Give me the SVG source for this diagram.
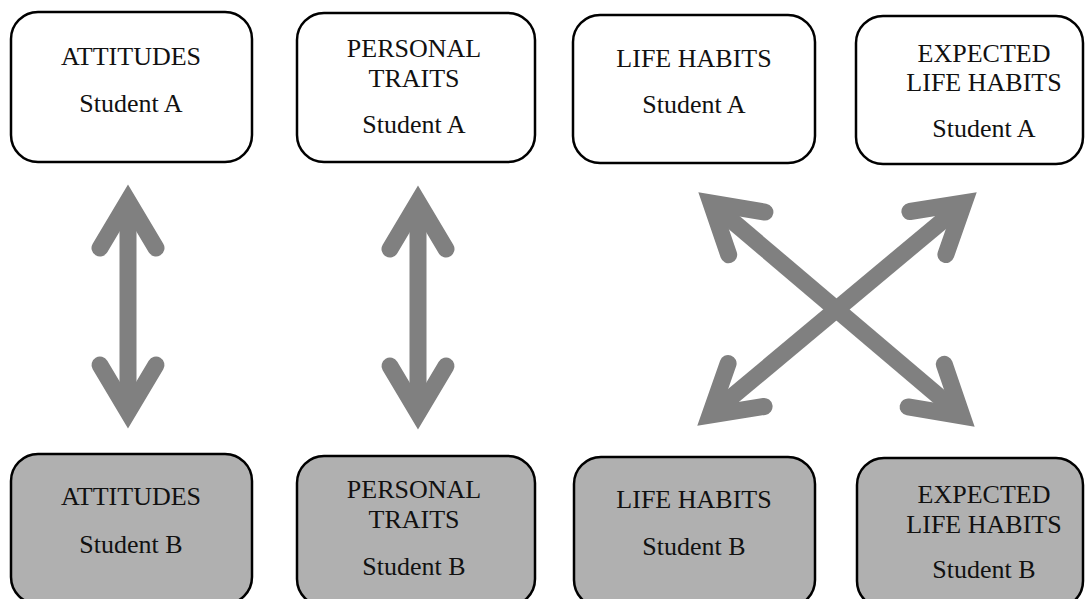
<svg xmlns="http://www.w3.org/2000/svg" width="1085" height="599" viewBox="0 0 1085 599">
<defs>
<rect id="bx" width="10" height="10"/>
</defs>
<rect width="1085" height="599" fill="#fff"/>
<g font-family="Liberation Serif" font-size="26" fill="#111" text-anchor="middle">
<g id="attitudes-a"><rect fill="#fff" stroke="#000" stroke-width="2.5" x="11" y="12" width="241" height="150" rx="27"/><text x="131" y="65">ATTITUDES</text><text x="131" y="112">Student A</text></g>
<g id="traits-a"><rect fill="#fff" stroke="#000" stroke-width="2.5" x="297" y="13" width="238" height="149" rx="27"/><text x="414" y="57">PERSONAL</text><text x="414" y="87">TRAITS</text><text x="414" y="133">Student A</text></g>
<g id="habits-a"><rect fill="#fff" stroke="#000" stroke-width="2.5" x="573" y="15" width="242" height="148" rx="27"/><text x="694" y="67">LIFE HABITS</text><text x="694" y="113">Student A</text></g>
<g id="expected-a"><rect fill="#fff" stroke="#000" stroke-width="2.5" x="856" y="16" width="227" height="148" rx="27"/><text x="984" y="62">EXPECTED</text><text x="984" y="91">LIFE HABITS</text><text x="984" y="137">Student A</text></g>
<g id="attitudes-b"><rect fill="#b0b0b0" stroke="#000" stroke-width="2.5" x="11" y="454" width="241" height="150" rx="27"/><text x="131" y="505">ATTITUDES</text><text x="131" y="553">Student B</text></g>
<g id="traits-b"><rect fill="#b0b0b0" stroke="#000" stroke-width="2.5" x="297" y="456" width="238" height="150" rx="27"/><text x="414" y="498">PERSONAL</text><text x="414" y="528">TRAITS</text><text x="414" y="575">Student B</text></g>
<g id="habits-b"><rect fill="#b0b0b0" stroke="#000" stroke-width="2.5" x="574" y="457" width="241" height="150" rx="27"/><text x="694" y="508">LIFE HABITS</text><text x="694" y="555">Student B</text></g>
<g id="expected-b"><rect fill="#b0b0b0" stroke="#000" stroke-width="2.5" x="857" y="458" width="226" height="150" rx="27"/><text x="984" y="503">EXPECTED</text><text x="984" y="533">LIFE HABITS</text><text x="984" y="578">Student B</text></g>
</g>
<g id="connectors" stroke="#808080" stroke-width="17" fill="none" stroke-linejoin="miter" stroke-miterlimit="10">
<line x1="128" y1="201" x2="128" y2="412"/>
<polyline stroke-linecap="round" points="100,248 128,201 156,248"/>
<polyline stroke-linecap="round" points="100,365 128,412 156,365"/>
<line x1="418" y1="202" x2="418" y2="413"/>
<polyline stroke-linecap="round" points="390,249 418,202 446,249"/>
<polyline stroke-linecap="round" points="390,366 418,413 446,366"/>
<line x1="711" y1="203" x2="962" y2="416"/>
<polyline stroke-linecap="round" points="728.7,254.8 711,203 764.9,212.1"/>
<polyline stroke-linecap="round" points="908.1,406.9 962,416 944.3,364.3"/>
<line x1="964" y1="202.9" x2="710" y2="415.1"/>
<polyline stroke-linecap="round" points="909.9,211.5 964,202.9 945.9,254.5"/>
<polyline stroke-linecap="round" points="728.1,363.5 710,415.1 764.1,406.5"/>
</g>
</svg>
